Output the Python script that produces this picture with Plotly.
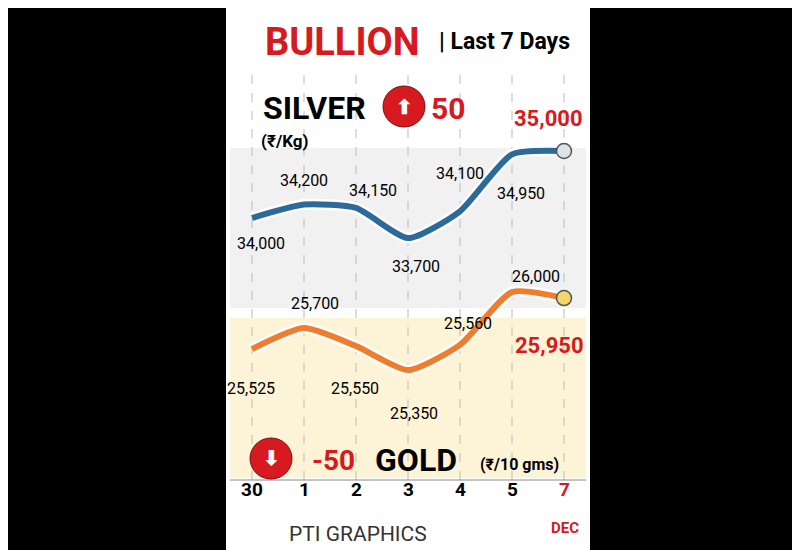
import plotly.graph_objects as go

days = ["30", "1", "2", "3", "4", "5", "7"]
silver = [34000, 34200, 34150, 33700, 34100, 34950, 35000]
gold = [25525, 25700, 25550, 25350, 25560, 26000, 25950]
silver_lbl = ["34,000", "34,200", "34,150", "33,700", "34,100", "34,950", "35,000"]
gold_lbl = ["25,525", "25,700", "25,550", "25,350", "25,560", "26,000", "25,950"]

FONT = "Liberation Sans Narrow, Roboto, Arial Narrow, sans-serif"
BLUE = "#2c6a9a"
ORANGE = "#f07d2c"
RED = "#d71920"

def px(x):
    return x / 800

def py(y):
    return 1 - y / 550

# numeric-looking day strings would be read as numbers, so place by index
idx = list(range(len(days)))

fig = go.Figure()

# white casing behind lines
fig.add_trace(go.Scatter(x=idx, y=silver, mode="lines", line=dict(color="white", width=11, shape="spline", smoothing=0.6), hoverinfo="skip"))
fig.add_trace(go.Scatter(x=idx, y=silver, mode="lines", line=dict(color=BLUE, width=6, shape="spline", smoothing=0.6), name="Silver", text=days))
fig.add_trace(go.Scatter(x=idx[-1:], y=silver[-1:], mode="markers", marker=dict(size=15, color="#dde3ea", line=dict(color="#555", width=1.5)), hoverinfo="skip"))
fig.add_trace(go.Scatter(x=idx, y=gold, yaxis="y2", mode="lines", line=dict(color="white", width=11, shape="spline", smoothing=0.6), hoverinfo="skip"))
fig.add_trace(go.Scatter(x=idx, y=gold, yaxis="y2", mode="lines", line=dict(color=ORANGE, width=6, shape="spline", smoothing=0.6), name="Gold", text=days))
fig.add_trace(go.Scatter(x=idx[-1:], y=gold[-1:], yaxis="y2", mode="markers", marker=dict(size=15, color="#f5d66a", line=dict(color="#555", width=1.5)), hoverinfo="skip"))

shapes = [
    dict(type="rect", xref="paper", yref="paper", x0=px(218), x1=px(582), y0=0, y1=1, fillcolor="white", line_width=0, layer="below"),
    dict(type="rect", xref="paper", yref="paper", x0=px(222), x1=px(578), y0=py(300), y1=py(140), fillcolor="rgba(200,200,200,0.25)", line_width=0, layer="below"),
    dict(type="rect", xref="paper", yref="paper", x0=px(222), x1=px(578), y0=py(470), y1=py(310), fillcolor="rgba(250,215,120,0.3)", line_width=0, layer="below"),
    dict(type="line", xref="paper", yref="paper", x0=px(222), x1=px(578), y0=py(472), y1=py(472), line=dict(color="#888", width=1)),
]
for i in idx:
    shapes.append(dict(type="line", xref="x", yref="paper", x0=i, x1=i, y0=py(472), y1=py(62), line=dict(color="#bbb", width=1, dash="dash"), layer="below"))
shapes.append(dict(type="circle", xref="paper", yref="paper", x0=px(375), x1=px(417), y0=py(119), y1=py(78), fillcolor=RED, line=dict(color="#7a0f12", width=1)))
shapes.append(dict(type="circle", xref="paper", yref="paper", x0=px(242), x1=px(284), y0=py(471), y1=py(430), fillcolor=RED, line=dict(color="#7a0f12", width=1)))

ann = []
def t(x, y, s, size=16, color="black", bold=False, anchor="center"):
    ann.append(dict(xref="paper", yref="paper", x=px(x), y=py(y), text=f"<b>{s}</b>" if bold else s,
                    showarrow=False, font=dict(family=FONT, size=size, color=color), xanchor=anchor, yanchor="middle"))

t(334, 34, "BULLION", 38, RED, True)
t(496, 34, "| Last 7 Days", 23, "black", True)
t(306, 100, "SILVER", 32, "black", True)
t(396, 99, "⬆", 20, "white", True)
t(440, 101, "50", 30, RED, True)
t(276, 133, "(₹/Kg)", 17, "black", True)
for x, y, s in zip([253, 296, 365, 408, 452, 513], [235, 172, 182, 258, 166, 185], silver_lbl[:-1]):
    t(x, y, s)
t(540, 111, silver_lbl[-1], 22, RED, True)
for x, y, s in zip([243, 307, 347, 406, 460, 528], [380, 295, 380, 405, 315, 268], gold_lbl[:-1]):
    t(x, y, s)
t(541, 337, gold_lbl[-1], 22, RED, True)
t(263, 450, "⬇", 20, "white", True)
t(325, 452, "-50", 28, RED, True)
t(408, 452, "GOLD", 32, "black", True)
t(511, 456, "(₹/10 gms)", 16, "black", True)
t(557, 520, "DEC", 15, RED, True)
t(350, 526, "PTI GRAPHICS", 21, "#333", False)

for i, d in zip(idx, days):
    ann.append(dict(xref="x", yref="paper", x=i, y=py(495), text="<b>%s</b>" % d, showarrow=False,
                    font=dict(family=FONT, size=19, color=RED if d == "7" else "black")))

fig.update_layout(
    width=800, height=550, margin=dict(l=0, r=0, t=0, b=0),
    paper_bgcolor="black", plot_bgcolor="rgba(0,0,0,0)", showlegend=False,
    shapes=shapes, annotations=ann,
    xaxis=dict(domain=[px(218), px(582)], range=[-0.5, 6.5], showgrid=False,
               zeroline=False, showticklabels=False, ticks=""),
    yaxis=dict(range=[28925, 37134], visible=False),
    yaxis2=dict(range=[23784, 28367], overlaying="y", visible=False),
)

fig.write_html("out.html")
